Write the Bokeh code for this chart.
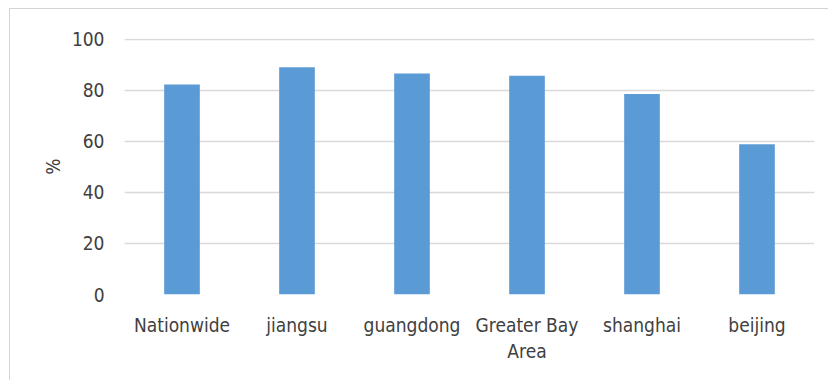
from bokeh.plotting import figure
from bokeh.models import Range1d, FactorRange
from bokeh.embed import file_html
from bokeh.resources import INLINE

# Share of respondents by region (%)
regions = ["Nationwide", "jiangsu", "guangdong", "Greater Bay\nArea", "shanghai", "beijing"]
shares = [82.3, 89.0, 86.6, 85.7, 78.6, 58.9]
y_ticks = [0, 20, 40, 60, 80, 100]

FONT = "DejaVu Sans Condensed"
TEXT_COLOR = "#404040"
GRID_COLOR = "#d9d9d9"

# chart box sits 9px in from the left and 8px down from the top of the page
p = figure(
    x_range=FactorRange(*regions, range_padding=0),
    y_range=Range1d(0, 100.3),
    width=819, height=372,
    output_backend="svg", toolbar_location=None,
    min_border_left=114, min_border_right=15,
    min_border_top=29, min_border_bottom=87,
    styles={"margin-left": "9px", "margin-top": "8px",
            "border-left": "1px solid #d4d4d4", "border-top": "1px solid #d4d4d4"},
)
p.outline_line_color = None
p.background_fill_color = "white"
p.border_fill_color = "white"

p.vbar(x=regions, top=shares, width=0.31, color="#5b9bd5", line_color=None)

p.xgrid.grid_line_color = None
p.ygrid.grid_line_color = GRID_COLOR
p.ygrid.grid_line_width = 1.5
p.yaxis.ticker = y_ticks

for ax in (p.xaxis[0], p.yaxis[0]):
    ax.axis_line_color = None
    ax.major_tick_line_color = None
    ax.minor_tick_line_color = None
    ax.major_tick_out = 0
    ax.major_tick_in = 0
    ax.major_label_text_font = FONT
    ax.major_label_text_font_size = "19px"
    ax.major_label_text_color = TEXT_COLOR

p.yaxis.major_label_standoff = 20
p.yaxis.axis_label = "%"
p.yaxis.axis_label_text_font = FONT
p.yaxis.axis_label_text_font_size = "19px"
p.yaxis.axis_label_text_font_style = "normal"
p.yaxis.axis_label_text_color = TEXT_COLOR
p.yaxis.axis_label_standoff = 5

p.xaxis.major_label_standoff = 19

open("out.html", "w").write(file_html(p, INLINE))
